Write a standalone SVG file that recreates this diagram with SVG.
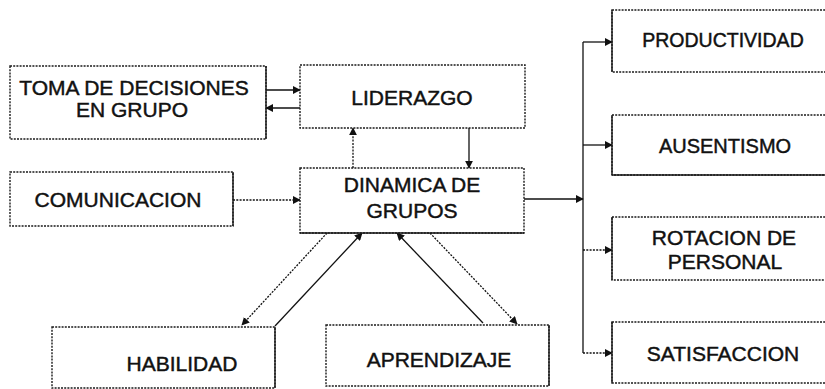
<svg xmlns="http://www.w3.org/2000/svg" width="825" height="389" viewBox="0 0 825 389">
<defs>
<marker id="ah" viewBox="0 0 10 10" refX="9" refY="5" markerWidth="8" markerHeight="8" markerUnits="userSpaceOnUse" orient="auto">
<path d="M0,0 L10,5 L0,10 z" fill="#111"/>
</marker>
<style>
.box{fill:#fff;stroke:#1a1a1a;stroke-width:1.4;stroke-dasharray:2 1.2}
.edge{fill:none;stroke:#1a1a1a;stroke-width:1.4}
.t{font-family:"Liberation Sans",Arial,sans-serif;font-size:21px;fill:#111;stroke:#111;stroke-width:0.45;text-anchor:middle}
.s{fill:none;stroke:#111;stroke-width:1.3}
.d{fill:none;stroke:#111;stroke-width:1.3;stroke-dasharray:2 1.3}
</style>
</defs>
<rect width="825" height="389" fill="#fff"/>

<g id="connectors">
<line class="s" x1="266" y1="90" x2="300" y2="90" marker-end="url(#ah)"/>
<line class="s" x1="300" y1="108" x2="266" y2="108" marker-end="url(#ah)"/>
<line class="d" x1="353" y1="168" x2="353" y2="128" marker-end="url(#ah)"/>
<line class="s" x1="469" y1="128" x2="469" y2="168" marker-end="url(#ah)"/>
<line class="d" x1="233" y1="200" x2="300" y2="200" marker-end="url(#ah)"/>
<line class="s" x1="524" y1="199" x2="583" y2="199" marker-end="url(#ah)"/>
<line class="s" x1="583" y1="42" x2="583" y2="353"/>
<line class="s" x1="583" y1="42" x2="612" y2="42" marker-end="url(#ah)"/>
<line class="s" x1="583" y1="145" x2="612" y2="145" marker-end="url(#ah)"/>
<line class="d" x1="583" y1="250" x2="612" y2="250" marker-end="url(#ah)"/>
<line class="d" x1="583" y1="353" x2="612" y2="353" marker-end="url(#ah)"/>
<line class="d" x1="327" y1="233" x2="242" y2="325" marker-end="url(#ah)"/>
<line class="s" x1="275" y1="326" x2="362" y2="233" marker-end="url(#ah)"/>
<line class="s" x1="483" y1="323" x2="397" y2="233" marker-end="url(#ah)"/>
<line class="d" x1="430" y1="233" x2="517" y2="324" marker-end="url(#ah)"/>
</g>

<g id="toma">
<rect class="box" x="10" y="66" width="256" height="73"/>
<line class="edge" x1="266" y1="66" x2="266" y2="139"/>
<text class="t" x="134" y="95">TOMA DE DECISIONES</text>
<text class="t" x="132" y="117">EN GRUPO</text>
</g>

<g id="liderazgo">
<rect class="box" x="300" y="65" width="225" height="63"/>
<text class="t" x="412" y="105">LIDERAZGO</text>
</g>

<g id="comunicacion">
<rect class="box" x="10" y="172" width="223" height="54"/>
<line class="edge" x1="233" y1="172" x2="233" y2="226"/>
<text class="t" x="118" y="207">COMUNICACION</text>
</g>

<g id="dinamica">
<rect class="box" x="300" y="168" width="224" height="65"/>
<line class="edge" x1="300" y1="233" x2="524" y2="233"/>
<text class="t" x="412" y="192">DINAMICA DE</text>
<text class="t" x="412" y="218">GRUPOS</text>
</g>

<g id="productividad">
<rect class="box" x="612" y="10" width="220" height="62"/>
<line class="edge" x1="612" y1="10" x2="612" y2="72"/>
<text class="t" x="723" y="47" style="font-size:19.5px">PRODUCTIVIDAD</text>
</g>

<g id="ausentismo">
<rect class="box" x="612" y="115" width="220" height="60"/>
<line class="edge" x1="612" y1="115" x2="612" y2="175"/>
<line class="edge" x1="612" y1="175" x2="825" y2="175"/>
<text class="t" x="725" y="153" style="font-size:20px">AUSENTISMO</text>
</g>

<g id="rotacion">
<rect class="box" x="612" y="217" width="220" height="63"/>
<line class="edge" x1="612" y1="217" x2="612" y2="280"/>
<text class="t" x="724" y="245">ROTACION DE</text>
<text class="t" x="725" y="269">PERSONAL</text>
</g>

<g id="satisfaccion">
<rect class="box" x="612" y="322" width="220" height="61"/>
<line class="edge" x1="612" y1="322" x2="612" y2="383"/>
<text class="t" x="723" y="361">SATISFACCION</text>
</g>

<g id="habilidad">
<rect class="box" x="52" y="327" width="223" height="61"/>
<line class="edge" x1="275" y1="327" x2="275" y2="388"/>
<text class="t" x="182" y="371">HABILIDAD</text>
</g>

<g id="aprendizaje">
<rect class="box" x="326" y="325" width="223" height="61"/>
<line class="edge" x1="549" y1="325" x2="549" y2="386"/>
<text class="t" x="439" y="367">APRENDIZAJE</text>
</g>
</svg>
